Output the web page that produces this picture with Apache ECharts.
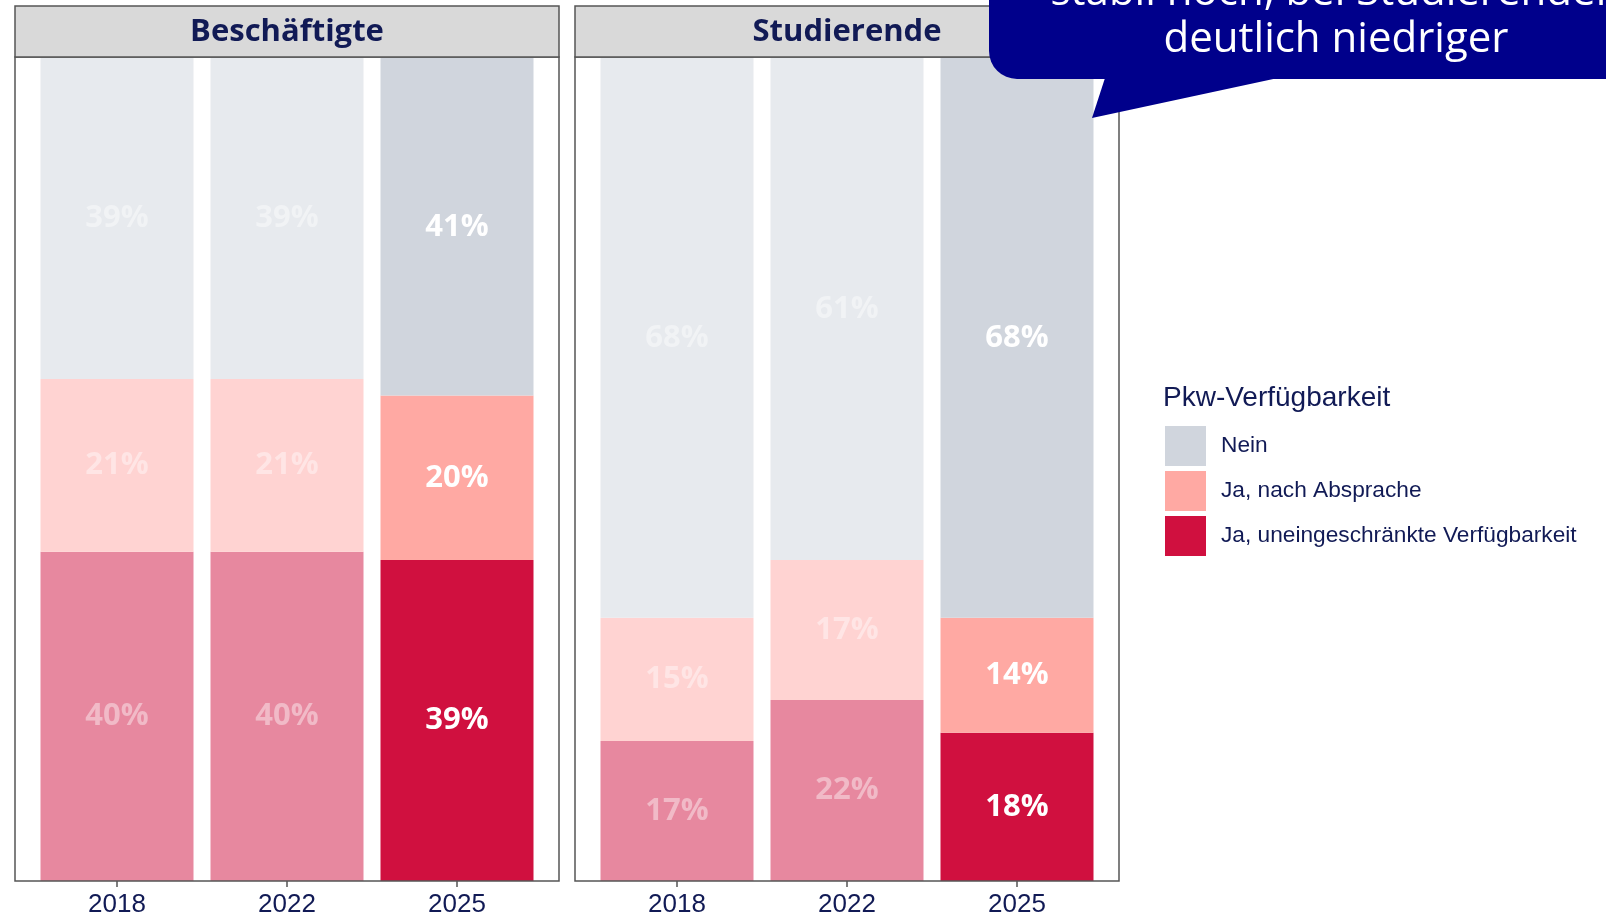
<!DOCTYPE html>
<html>
<head>
<meta charset="utf-8">
<script src="https://cdn.jsdelivr.net/npm/echarts@6/dist/echarts.min.js"></script>
<style>
  html, body { margin: 0; padding: 0; background: #fff; }
  #chart { width: 1606px; height: 919px; }
</style>
</head>
<body>
<div id="chart"></div>
<script>
// Daten
const years = ['2018', '2022', '2025']
const panels = ['Beschäftigte', 'Studierende']
const categories = ['Nein', 'Ja, nach Absprache', 'Ja, uneingeschränkte Verfügbarkeit']

const beschNein = [39, 39, 41]
const beschAbsprache = [21, 21, 20]
const beschUneingeschraenkt = [40, 40, 39]

const studNein = [68, 61, 68]
const studAbsprache = [15, 17, 14]
const studUneingeschraenkt = [17, 22, 18]

const calloutText = ['stabil hoch, bei Studierenden', 'deutlich niedriger']

// Farben (aktuell / abgeschwächt fuer Vorjahre)
const colors = { 'Nein': '#D0D5DD', 'Ja, nach Absprache': '#FFA9A3', 'Ja, uneingeschränkte Verfügbarkeit': '#D0103F' }
const fadedColors = { 'Nein': '#E7EAEE', 'Ja, nach Absprache': '#FFD3D2', 'Ja, uneingeschränkte Verfügbarkeit': '#E7889F' }
const navy = '#111a55'
const frame = '#555555'

const panelData = [
  { 'Nein': beschNein, 'Ja, nach Absprache': beschAbsprache, 'Ja, uneingeschränkte Verfügbarkeit': beschUneingeschraenkt },
  { 'Nein': studNein, 'Ja, nach Absprache': studAbsprache, 'Ja, uneingeschränkte Verfügbarkeit': studUneingeschraenkt }
]

// Panelrahmen; die Balkenflaeche ist links/rechts um 0.1 Band eingerueckt (wie ggplot-Expansion)
const panelLefts = [15, 575]
const panelW = 544
const band = panelW / 3.2
const gridTop = 58
const gridH = 823

const chart = echarts.init(document.getElementById('chart'))

const series = []
const stackOrder = ['Ja, uneingeschränkte Verfügbarkeit', 'Ja, nach Absprache', 'Nein']
panelData.forEach((pd, gi) => {
  stackOrder.forEach(name => {
    series.push({
      name: name,
      type: 'bar',
      stack: 'p' + gi,
      xAxisIndex: gi,
      yAxisIndex: gi,
      barWidth: '90%',
      itemStyle: { color: colors[name] },
      label: {
        show: true,
        position: 'inside',
        fontFamily: 'Open Sans',
        fontWeight: 'bold',
        fontSize: 31,
        color: '#fff',
        formatter: p => p.value + '%'
      },
      emphasis: { disabled: true },
      data: pd[name].map((v, i) => {
        const faded = i < 2
        return {
          value: v,
          itemStyle: { color: faded ? fadedColors[name] : colors[name] },
          label: { color: faded ? 'rgba(255,255,255,0.42)' : '#fff' }
        }
      })
    })
  })
})

const graphics = []
panels.forEach((title, gi) => {
  graphics.push({
    type: 'rect',
    z: 5,
    shape: { x: panelLefts[gi], y: 57, width: panelW, height: gridTop + gridH - 57 },
    style: { fill: 'none', stroke: frame, lineWidth: 1.5 }
  })
  graphics.push({
    type: 'rect',
    z: 10,
    shape: { x: panelLefts[gi], y: 6, width: panelW, height: 51 },
    style: { fill: '#D9D9D9', stroke: frame, lineWidth: 1.5 }
  })
  graphics.push({
    type: 'text',
    z: 11,
    x: panelLefts[gi] + panelW / 2,
    y: 32,
    style: {
      text: title, fill: navy, font: 'bold 31px "Open Sans"',
      align: 'center', verticalAlign: 'middle'
    }
  })
})

// Sprechblase
graphics.push(
  { type: 'rect', z: 20, shape: { x: 989, y: -80, width: 700, height: 159, r: 28 }, style: { fill: '#00008B' } },
  { type: 'polygon', z: 20, shape: { points: [[1105, 78], [1092, 118], [1278, 78]] }, style: { fill: '#00008B' } },
  {
    type: 'text', z: 21, x: 1336, y: -7,
    style: { text: calloutText[0], fill: '#fff', font: '42px "Open Sans"', align: 'center', verticalAlign: 'middle' }
  },
  {
    type: 'text', z: 21, x: 1336, y: 40,
    style: { text: calloutText[1], fill: '#fff', font: '42px "Open Sans"', align: 'center', verticalAlign: 'middle' }
  }
)

const option = {
  backgroundColor: '#fff',
  animation: false,
  title: {
    text: 'Pkw-Verfügbarkeit',
    left: 1163,
    top: 384,
    padding: 0,
    textStyle: { fontFamily: 'Liberation Sans', fontWeight: 'normal', fontSize: 28, color: navy }
  },
  legend: {
    data: categories,
    orient: 'vertical',
    left: 1165,
    top: 426,
    padding: 0,
    itemWidth: 41,
    itemHeight: 40,
    itemGap: 5,
    icon: 'rect',
    selectedMode: false,
    textStyle: { fontFamily: 'Liberation Sans', fontSize: 22.7, color: navy, padding: [2, 0, 0, 10] }
  },
  grid: panelLefts.map(l => ({
    left: l + band * 0.1, top: gridTop, width: band * 3, height: gridH
  })),
  xAxis: panelLefts.map((l, gi) => ({
    type: 'category',
    gridIndex: gi,
    data: years,
    axisLine: { show: false },
    axisTick: { show: true, alignWithLabel: true, length: 6, lineStyle: { color: frame, width: 1.5 } },
    axisLabel: {
      margin: 11,
      fontFamily: 'Liberation Sans',
      fontSize: 26,
      color: navy
    }
  })),
  yAxis: panelLefts.map((l, gi) => ({
    type: 'value',
    gridIndex: gi,
    min: 0,
    max: 100,
    show: false
  })),
  series: series,
  graphic: graphics
}

chart.setOption(option)
</script>
</body>
</html>
